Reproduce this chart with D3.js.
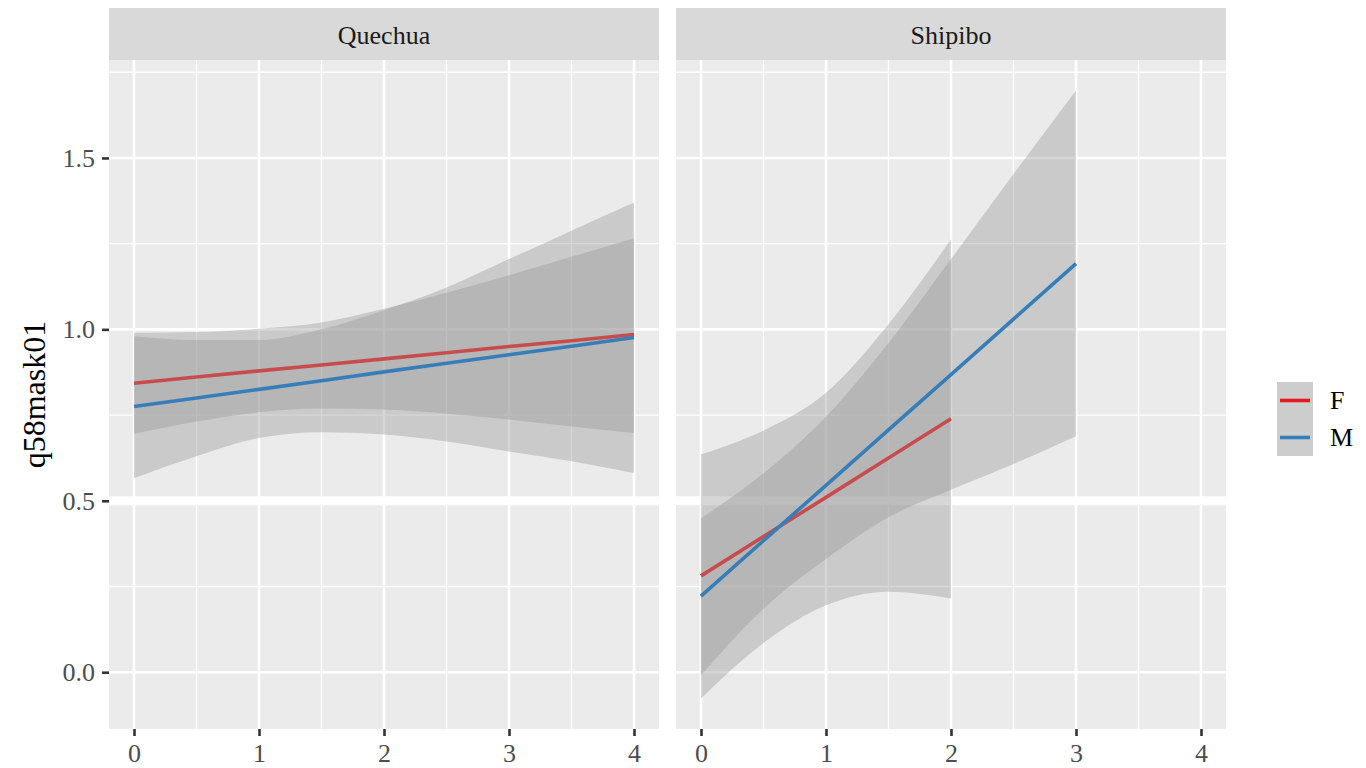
<!DOCTYPE html>
<html>
<head>
<meta charset="utf-8">
<script src="https://cdn.jsdelivr.net/npm/d3@7"></script>
<style>
  body { margin: 0; background: #fff; }
  svg, svg text { font-family: "Liberation Serif", "Times New Roman", serif; }
  svg { display: block; }
</style>
</head>
<body>
<svg id="chart" width="1366" height="768"></svg>
<script>
const facets = ["Quechua", "Shipibo"];
const sexes = ["F", "M"];
const sexColours = ["#E41A1C", "#377EB8"];
const xTicks = [0, 1, 2, 3, 4];
const xMinor = [0.5, 1.5, 2.5, 3.5];
const yTicks = [0, 0.5, 1, 1.5];
const yMinor = [0.25, 0.75, 1.25, 1.75];
const yTitle = "q58mask01";

const quechuaX = [0, 0.5, 1, 1.5, 2, 2.5, 3, 3.5, 4];
const quechuaFFit = [0.843, 0.861, 0.879, 0.896, 0.914, 0.932, 0.950, 0.967, 0.985];
const quechuaFLow = [0.695, 0.731, 0.758, 0.769, 0.766, 0.754, 0.737, 0.717, 0.698];
const quechuaFHigh = [0.990, 0.992, 1.002, 1.020, 1.060, 1.107, 1.158, 1.212, 1.265];
const quechuaMFit = [0.775, 0.800, 0.825, 0.850, 0.876, 0.901, 0.926, 0.951, 0.976];
const quechuaMLow = [0.566, 0.630, 0.683, 0.700, 0.693, 0.673, 0.644, 0.615, 0.581];
const quechuaMHigh = [0.980, 0.969, 0.969, 1.000, 1.056, 1.122, 1.205, 1.288, 1.370];

// Shipibo
const shipiboFX = [0, 0.5, 1, 1.5, 2];
const shipiboFFit = [0.281, 0.396, 0.510, 0.625, 0.739];
const shipiboFLow = [-0.077, 0.085, 0.195, 0.235, 0.215];
const shipiboFHigh = [0.635, 0.705, 0.815, 1.015, 1.263];
const shipiboMX = [0, 0.5, 1, 1.5, 2, 2.5, 3];
const shipiboMFit = [0.222, 0.384, 0.545, 0.707, 0.868, 1.030, 1.192];
const shipiboMLow = [-0.009, 0.185, 0.330, 0.452, 0.532, 0.607, 0.688];
const shipiboMHigh = [0.449, 0.580, 0.745, 0.960, 1.205, 1.453, 1.697];

const series = [
  { facet: 0, sex: 0, x: quechuaX, fit: quechuaFFit, low: quechuaFLow, high: quechuaFHigh },
  { facet: 0, sex: 1, x: quechuaX, fit: quechuaMFit, low: quechuaMLow, high: quechuaMHigh },
  { facet: 1, sex: 0, x: shipiboFX, fit: shipiboFFit, low: shipiboFLow, high: shipiboFHigh },
  { facet: 1, sex: 1, x: shipiboMX, fit: shipiboMFit, low: shipiboMLow, high: shipiboMHigh }
];

const panelW = 550;
const panelX = [109, 676];
const panelTop = 60;
const panelBottom = 729;
const stripTop = 8;
const fontSize = 26;
const serif = "'Liberation Serif', 'Times New Roman', serif";

const svg = d3.select("#chart");

const x = d3.scaleLinear().domain([-0.2, 4.2]).range([0, panelW]);
const yLo = d3.min(series, (s) => d3.min(s.low));
const yHi = d3.max(series, (s) => d3.max(s.high));
const pad = (yHi - yLo) * 0.05;
const y = d3.scaleLinear().domain([yLo - pad, yHi + pad]).range([panelBottom, panelTop]);

const area = d3
  .area()
  .x((d) => x(d.x))
  .y0((d) => y(d.low))
  .y1((d) => y(d.high))
  .curve(d3.curveMonotoneX);
const line = d3
  .line()
  .x((d) => x(d.x))
  .y((d) => y(d.fit));

facets.forEach((name, i) => {
  const g = svg.append("g").attr("transform", `translate(${panelX[i]},0)`);

  g.append("rect")
    .attr("x", 0)
    .attr("y", panelTop)
    .attr("width", panelW)
    .attr("height", panelBottom - panelTop)
    .attr("fill", "#EBEBEB");

  // grid
  g.selectAll("line.minor-x")
    .data(xMinor)
    .join("line")
    .attr("class", "minor-x")
    .attr("x1", (d) => x(d))
    .attr("x2", (d) => x(d))
    .attr("y1", panelTop)
    .attr("y2", panelBottom)
    .attr("stroke", "#fff")
    .attr("stroke-width", 1.3);
  g.selectAll("line.minor-y")
    .data(yMinor)
    .join("line")
    .attr("class", "minor-y")
    .attr("x1", 0)
    .attr("x2", panelW)
    .attr("y1", (d) => y(d))
    .attr("y2", (d) => y(d))
    .attr("stroke", "#fff")
    .attr("stroke-width", 1.3);
  g.selectAll("line.major-x")
    .data(xTicks)
    .join("line")
    .attr("class", "major-x")
    .attr("x1", (d) => x(d))
    .attr("x2", (d) => x(d))
    .attr("y1", panelTop)
    .attr("y2", panelBottom)
    .attr("stroke", "#fff")
    .attr("stroke-width", 2.6);
  g.selectAll("line.major-y")
    .data(yTicks)
    .join("line")
    .attr("class", "major-y")
    .attr("x1", 0)
    .attr("x2", panelW)
    .attr("y1", (d) => y(d))
    .attr("y2", (d) => y(d))
    .attr("stroke", "#fff")
    .attr("stroke-width", (d) => (d === 0.5 ? 9 : 2.6));

  // smooths: ribbon then line, F first then M
  series
    .filter((s) => s.facet === i)
    .forEach((s) => {
      const pts = s.x.map((v, k) => ({ x: v, fit: s.fit[k], low: s.low[k], high: s.high[k] }));
      g.append("path")
        .attr("d", area(pts))
        .attr("fill", "#999999")
        .attr("fill-opacity", 0.4);
      g.append("path")
        .attr("d", line(pts))
        .attr("fill", "none")
        .attr("stroke", sexColours[s.sex])
        .attr("stroke-width", 3.6);
    });

  // strip
  g.append("rect")
    .attr("x", 0)
    .attr("y", stripTop)
    .attr("width", panelW)
    .attr("height", panelTop - stripTop)
    .attr("fill", "#D9D9D9");
  g.append("text")
    .attr("x", panelW / 2)
    .attr("y", 44)
    .attr("text-anchor", "middle")
    .attr("font-size", fontSize)
    .style("font-family", serif)
    .attr("fill", "#1A1A1A")
    .text(name);

  // x axis
  g.append("g")
    .attr("transform", `translate(0,${panelBottom})`)
    .call(d3.axisBottom(x).tickValues(xTicks).tickFormat(d3.format("d")).tickSize(7).tickPadding(8))
    .call((a) => a.select(".domain").remove())
    .call((a) => a.selectAll("line").attr("stroke", "#333").attr("stroke-width", 2.6))
    .call((a) =>
      a.selectAll("text")
        .attr("fill", "#4D4D4D")
        .attr("font-size", fontSize)
        .style("font-family", serif)
    );

  if (i === 0) {
    g.append("g")
      .call(d3.axisLeft(y).tickValues(yTicks).tickFormat(d3.format(".1f")).tickSize(7).tickPadding(7))
      .call((a) => a.select(".domain").remove())
      .call((a) => a.selectAll("line").attr("stroke", "#333").attr("stroke-width", 2.6))
      .call((a) =>
        a.selectAll("text")
          .attr("fill", "#4D4D4D")
          .attr("font-size", fontSize)
          .style("font-family", serif)
      );
  }
});

svg.append("text")
  .attr("transform", `translate(45,${(panelTop + panelBottom) / 2}) rotate(-90)`)
  .attr("text-anchor", "middle")
  .attr("font-size", 32)
  .style("font-family", serif)
  .attr("fill", "#000")
  .text(yTitle);

// legend
const legend = svg.append("g").attr("transform", "translate(1277,382)");
const keyH = 37;
legend.selectAll("rect")
  .data(sexes)
  .join("rect")
  .attr("x", 0)
  .attr("y", (d, k) => k * keyH)
  .attr("width", 36)
  .attr("height", keyH)
  .attr("fill", "#CDCDCD");
legend.selectAll("line")
  .data(sexes)
  .join("line")
  .attr("x1", 3)
  .attr("x2", 33)
  .attr("y1", (d, k) => k * keyH + keyH / 2)
  .attr("y2", (d, k) => k * keyH + keyH / 2)
  .attr("stroke", (d, k) => sexColours[k])
  .attr("stroke-width", 3.6);
legend.selectAll("text")
  .data(sexes)
  .join("text")
  .attr("x", 53)
  .attr("y", (d, k) => k * keyH + keyH / 2)
  .attr("dy", "0.34em")
  .attr("font-size", fontSize)
  .style("font-family", serif)
  .attr("fill", "#000")
  .text((d) => d);
</script>
</body>
</html>
